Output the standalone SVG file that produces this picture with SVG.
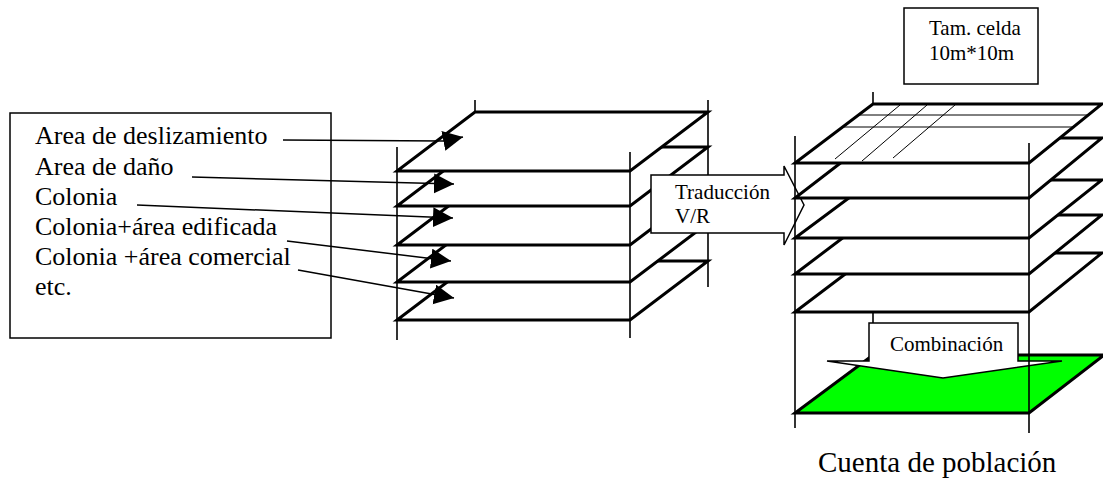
<svg xmlns="http://www.w3.org/2000/svg" width="1103" height="482" viewBox="0 0 1103 482">
<style>
.t{font-family:"Liberation Serif","Times New Roman",serif;fill:#000}
.layer{fill:#fff;stroke:#000;stroke-width:3;stroke-linejoin:miter}
.vl{stroke:#000;stroke-width:1.6;fill:none}
.box{fill:#fff;stroke:#000;stroke-width:1.5}
.grid{stroke:#000;stroke-width:1;fill:none}
.conn{stroke:#000;stroke-width:1.5;fill:none;marker-end:url(#ah)}
</style>
<defs>
<marker id="ah" markerUnits="userSpaceOnUse" markerWidth="22" markerHeight="22" refX="20" refY="10" orient="auto" viewBox="0 0 22 22">
<path d="M0,0 L20,10 L0,20 Z" fill="#000"/>
</marker>
</defs>
<rect width="1103" height="482" fill="#fff"/>

<g id="labels-box">
<rect class="box" x="10" y="113" width="321" height="225"/>
<text class="t" font-size="26" x="35" y="144">Area de deslizamiento</text>
<text class="t" font-size="26" x="35" y="175">Area de daño</text>
<text class="t" font-size="26" x="35" y="205">Colonia</text>
<text class="t" font-size="26" x="35" y="235">Colonia+área edificada</text>
<text class="t" font-size="26" x="35" y="265">Colonia +área comercial</text>
<text class="t" font-size="26" x="35" y="295">etc.</text>
</g>

<g id="left-stack">
<line class="vl" x1="475" y1="100" x2="475" y2="112"/>
<line class="vl" x1="708" y1="100" x2="708" y2="287"/>
<polygon class="layer" points="397,320 630,320 708,261 475,261"/>
<polygon class="layer" points="397,282 630,282 708,223 475,223"/>
<polygon class="layer" points="397,245 630,245 708,186 475,186"/>
<polygon class="layer" points="397,206 630,206 708,147 475,147"/>
<polygon class="layer" points="397,171 630,171 708,112 475,112"/>
<line class="vl" x1="397" y1="147" x2="397" y2="340"/>
<line class="vl" x1="630" y1="152" x2="630" y2="338"/>
</g>

<g id="connectors">
<polyline class="conn" points="283,140 443,141 463,137"/>
<line class="conn" x1="192" y1="177" x2="454" y2="184"/>
<line class="conn" x1="137" y1="205" x2="453" y2="218"/>
<line class="conn" x1="287" y1="241" x2="451" y2="261"/>
<line class="conn" x1="298" y1="270" x2="454" y2="298"/>
</g>

<g id="translation-arrow">
<polygon class="box" points="651,175 784,175 784,166 804,205 784,245 784,233 651,233"/>
<text class="t" font-size="21" x="675" y="199">Traducción</text>
<text class="t" font-size="21" x="675" y="223">V/R</text>
</g>

<g id="right-stack">
<line class="vl" x1="873" y1="92" x2="873" y2="355"/>
<polygon class="layer" points="795,413 1029,413 1104,355 873,355" style="fill:#00ff00"/>
<polygon class="layer" points="795,312 1029,312 1102,253 873,253"/>
<polygon class="layer" points="795,274 1029,274 1102,215 873,215"/>
<polygon class="layer" points="795,238 1029,238 1102,180 873,180"/>
<polygon class="layer" points="795,198 1029,198 1102,138 873,138"/>
<polygon class="layer" points="795,163 1029,163 1102,104 873,104"/>
<line class="grid" x1="859" y1="115" x2="1088" y2="115"/>
<line class="grid" x1="843" y1="127" x2="1073" y2="127"/>
<line class="grid" x1="900" y1="105" x2="835" y2="159"/>
<line class="grid" x1="927" y1="105" x2="862" y2="161"/>
<line class="grid" x1="955" y1="105" x2="893" y2="158"/>
</g>

<g id="combination-arrow">
<polygon class="box" points="869,323 1018,323 1018,361 1062,361 943,378 827,361 869,361"/>
<text class="t" font-size="21" x="890" y="351">Combinación</text>
</g>

<g id="right-verticals">
<line class="vl" x1="795" y1="136" x2="795" y2="428"/>
<line class="vl" x1="1029" y1="143" x2="1029" y2="433"/>
</g>

<g id="cell-size">
<rect class="box" x="904" y="8" width="134" height="76"/>
<text class="t" font-size="21" x="929" y="35">Tam. celda</text>
<text class="t" font-size="21" x="929" y="60">10m*10m</text>
</g>

<g id="result-label">
<text class="t" font-size="29" x="818" y="472">Cuenta de población</text>
</g>
</svg>
